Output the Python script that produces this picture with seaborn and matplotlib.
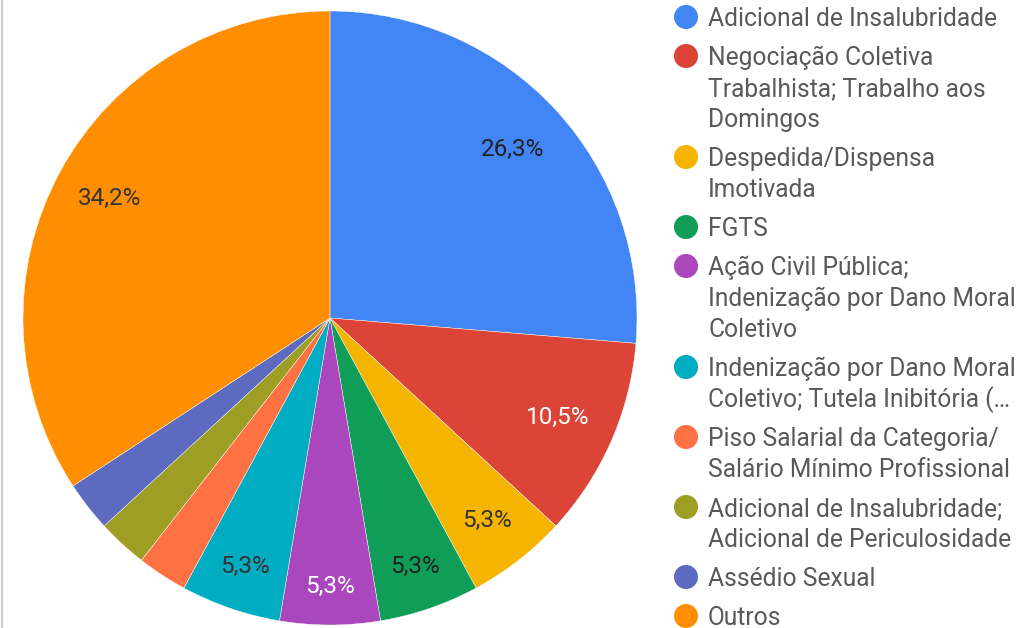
import matplotlib
matplotlib.use("Agg")
import numpy as np
import matplotlib.pyplot as plt
import seaborn as sns
from matplotlib.lines import Line2D

sns.set_theme(style="white")
plt.rcParams['font.family'] = ['Roboto', 'DejaVu Sans']

categories = [
    "Adicional de Insalubridade",
    "Negociação Coletiva\nTrabalhista; Trabalho aos\nDomingos",
    "Despedida/Dispensa\nImotivada",
    "FGTS",
    "Ação Civil Pública;\nIndenização por Dano Moral\nColetivo",
    "Indenização por Dano Moral\nColetivo; Tutela Inibitória (…",
    "Piso Salarial da Categoria/\nSalário Mínimo Profissional",
    "Adicional de Insalubridade;\nAdicional de Periculosidade",
    "Assédio Sexual",
    "Outros",
]
counts = [10, 4, 2, 2, 2, 2, 1, 1, 1, 13]
colors = ["#4285F4", "#DB4437", "#F4B400", "#0F9D58", "#AB47BC",
          "#00ACC1", "#FF7043", "#9E9D24", "#5C6BC0", "#FF8F00"]
label_colors = ["#222222", "#FFFFFF", "#333333", "#222222", "#FFFFFF",
                "#333333", "#222222", "#222222", "#FFFFFF", "#333333"]
label_dist = [0.81, 0.81, 0.835, 0.855, 0.875, 0.855, 0.85, 0.85, 0.85, 0.815]

W, H = 1036, 628
fig = plt.figure(figsize=(W / 100, H / 100), dpi=100)
fig.patch.set_facecolor("white")

# pie axes: center (330, 318), radius 307 px
cx, cy, r = 330, 318, 307
ax = fig.add_axes([(cx - r) / W, (H - cy - r) / H, 2 * r / W, 2 * r / H])

def fmt(p):
    return ("%.1f%%" % p).replace(".", ",") if p >= 4 else ""

wedges, texts, autotexts = ax.pie(
    counts, colors=colors, startangle=90, counterclock=False,
    autopct=fmt, pctdistance=0.815, radius=1,
    wedgeprops=dict(linewidth=0.3, edgecolor="white"),
    textprops=dict(fontsize=17.5),
)
for w, t, c, d in zip(wedges, autotexts, label_colors, label_dist):
    t.set_color(c)
    ang = np.deg2rad((w.theta1 + w.theta2) / 2)
    t.set_position((d * np.cos(ang), d * np.sin(ang)))
ax.set_xlim(-1, 1)
ax.set_ylim(-1, 1)
ax.set_aspect("equal")
ax.axis("off")

# overlay axes in pixel coordinates for legend and border line
ov = fig.add_axes([0, 0, 1, 1], zorder=5)
ov.set_xlim(0, W)
ov.set_ylim(H, 0)
ov.axis("off")
ov.patch.set_alpha(0)
ov.add_line(Line2D([1.5, 1.5], [0, H], color="#cccccc", linewidth=1.5))

y = 17
line_h = 31
gap = 8
for lab, col in zip(categories, colors):
    ov.scatter([686], [y], s=300, color=col, edgecolors="none")
    lines = lab.split("\n")
    for i, ln in enumerate(lines):
        ov.text(708, y + i * line_h + 8.8, ln, fontsize=17.7, color="#595959",
                va="baseline", ha="left")
    y += len(lines) * line_h + gap

fig.savefig("out.png", dpi=100, facecolor="white")
